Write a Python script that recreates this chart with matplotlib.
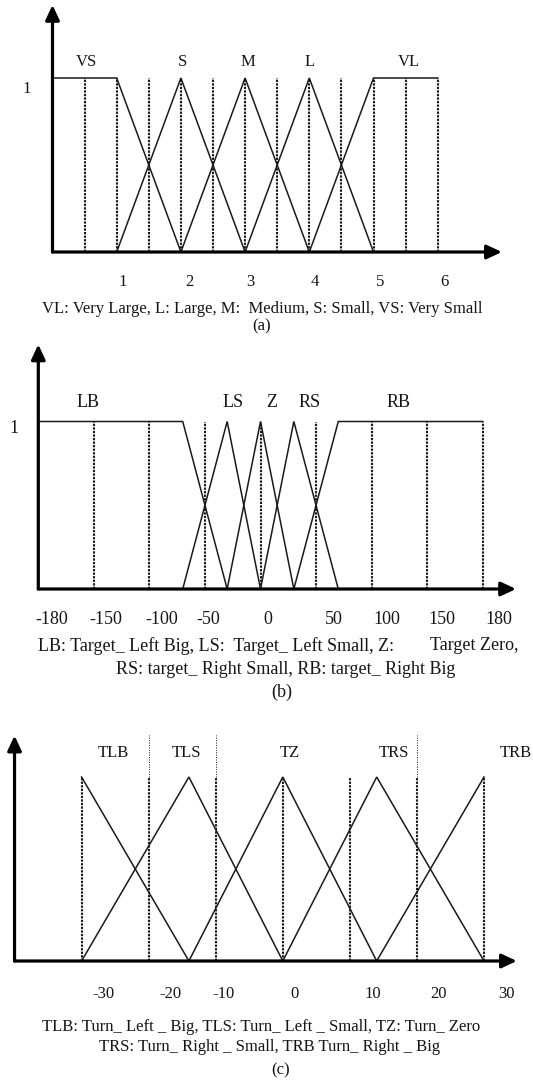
import matplotlib
matplotlib.use("Agg")
import matplotlib.pyplot as plt

W, H = 533, 1080

# (a) distance sets
a_labels = ['VS', 'S', 'M', 'L', 'VL']
a_x = [[0, 1, 2], [1, 2, 3], [2, 3, 4], [3, 4, 5], [4, 5, 6]]
a_mu = [[1, 1, 0], [0, 1, 0], [0, 1, 0], [0, 1, 0], [0, 1, 1]]
a_grid = [0.5, 1.0, 1.5, 2.0, 2.5, 3.0, 3.5, 4.0, 4.5, 5.0, 5.5, 6.0]
a_ticks = ['1', '2', '3', '4', '5', '6']
a_caption = "VL: Very Large, L: Large, M:  Medium, S: Small, VS: Very Small"

# (b) target angle sets
b_labels = ['LB', 'LS', 'Z', 'RS', 'RB']
b_x = [[-180, -63, -27], [-63, -27, 0], [-27, 0, 27], [0, 27, 63], [27, 63, 180]]
b_mu = [[1, 1, 0], [0, 1, 0], [0, 1, 0], [0, 1, 0], [0, 1, 1]]
b_grid = [-135, -90, -45, 0, 45, 90, 135, 180]
b_ticks = ['-180', '-150', '-100', '-50', '0', '50', '100', '150', '180']
b_caption1 = "LB: Target_ Left Big, LS:  Target_ Left Small, Z:"
b_caption1b = "Target Zero,"
b_caption2 = "RS: target_ Right Small, RB: target_ Right Big"

# (c) turn angle sets
c_labels = ['TLB', 'TLS', 'TZ', 'TRS', 'TRB']
c_x = [[-30, -14], [-30, -14, 0], [-14, 0, 14], [0, 14, 30], [14, 30]]
c_mu = [[1, 0], [0, 1, 0], [0, 1, 0], [0, 1, 0], [0, 1]]
c_grid = [-30, -20, -10, 0, 10, 20, 30]
c_grid_tall = [-20, -10, 20]
c_ticks = ['-30', '-20', '-10', '0', '10', '20', '30']
c_caption1 = "TLB: Turn_ Left _ Big, TLS: Turn_ Left _ Small, TZ: Turn_ Zero"
c_caption2 = "TRS: Turn_ Right _ Small, TRB Turn_ Right _ Big"

# label placement (data units of each panel)
a_label_x = [0.53, 2.02, 3.04, 4.01, 5.55]
a_tick_x = [1.1, 2.13, 3.08, 4.09, 5.1, 6.1]
b_label_x = [-140, -22, 9, 40, 112]
b_tick_x = [-169, -125, -80, -42, 6, 59, 102, 147, 193]
c_label_x = [-25.2, -14.4, 1.1, 16.6, 34.7]
c_tick_x = [-26.7, -16.8, -8.8, 1.7, 13.4, 23.2, 33.4]

plt.rcParams['font.family'] = ['Liberation Serif', 'DejaVu Serif']
FS = 12
FS_B = 13
TXT = '#151515'
LINE = '#1a1a1a'
DOTS = (0, (1.1, 0.6))


def add_panel(fig, top, bottom, xa, xb, ya, yb):
    ax = fig.add_axes([0, 1 - bottom / H, 1, (bottom - top) / H])
    xs = (xb[1] - xa[1]) / (xb[0] - xa[0])
    ys = (yb[1] - ya[1]) / (yb[0] - ya[0])
    ax.set_xlim(xa[1] + (0 - xa[0]) * xs, xa[1] + (W - xa[0]) * xs)
    ax.set_ylim(ya[1] + (bottom - ya[0]) * ys, ya[1] + (top - ya[0]) * ys)
    ax.axis('off')
    return ax


def draw_axes(ax, x0, x1, y1):
    style = dict(arrowstyle='-|>,head_length=0.45,head_width=0.21', lw=2.3,
                 color='black', mutation_scale=20, shrinkA=0, shrinkB=0)
    ax.annotate('', xy=(x1, 0), xytext=(x0, 0), arrowprops=style)
    ax.annotate('', xy=(x0, y1), xytext=(x0, 0), arrowprops=style)


def draw_sets(ax, xs, mus, grid):
    ax.vlines(grid, 0, 1, colors=LINE, linestyles=DOTS, lw=1.5)
    for x, mu in zip(xs, mus):
        ax.plot(x, mu, color=LINE, lw=1.1, solid_joinstyle='miter')


def ftext(fig, x, y, s, fs=FS, **kw):
    fig.text(x / W, 1 - y / H, s, fontsize=fs, color=TXT, va='center', **kw)


fig = plt.figure(figsize=(W / 100, H / 100), dpi=100)

# ---- (a)
ax = add_panel(fig, 0, 330, (52.5, 0), (437.7, 6), (252, 0), (78, 1))
draw_sets(ax, a_x, a_mu, a_grid)
draw_axes(ax, 0, 7.0, 1.42)
for name, lx in zip(a_labels, a_label_x):
    ax.text(lx, 1.09, name, ha='center', va='center', fontsize=FS, color=TXT)
for t, tx in zip(a_ticks, a_tick_x):
    ax.text(tx, -0.17, t, ha='center', va='center', fontsize=FS, color=TXT)
ax.text(-0.41, 0.935, '1', ha='center', va='center', fontsize=FS, color=TXT)
ftext(fig, 262.5, 309, a_caption, ha='center')
ftext(fig, 261.7, 326, '(a)', ha='center')

# ---- (b)
ax = add_panel(fig, 330, 700, (260.5, 0), (482.7, 180), (589, 0), (421.5, 1))
draw_sets(ax, b_x, b_mu, b_grid)
draw_axes(ax, -180, 207, 1.46)
for name, lx in zip(b_labels, b_label_x):
    ax.text(lx, 1.115, name, ha='center', va='center', fontsize=FS_B, color=TXT)
for t, tx in zip(b_ticks, b_tick_x):
    ax.text(tx, -0.185, t, ha='center', va='center', fontsize=FS_B, color=TXT)
ax.text(-199.8, 0.96, '1', ha='center', va='center', fontsize=FS_B, color=TXT)
ftext(fig, 38.4, 646, b_caption1, fs=FS_B, ha='left')
ftext(fig, 430, 645, b_caption1b, fs=FS_B, ha='left')
ftext(fig, 286, 670, b_caption2, fs=FS_B, ha='center')
ftext(fig, 281.7, 692, '(b)', fs=FS_B, ha='center')

# ---- (c)
ax = add_panel(fig, 700, 1080, (282.8, 0), (484, 30), (961, 0), (777, 1))
draw_sets(ax, c_x, c_mu, c_grid)
ax.vlines(c_grid_tall, 1, 1.23, colors=LINE, linestyles=(0, (1, 1.5)), lw=0.7)
draw_axes(ax, -40, 34.9, 1.225)
for name, lx in zip(c_labels, c_label_x):
    ax.text(lx, 1.13, name, ha='center', va='center', fontsize=FS, color=TXT)
for t, tx in zip(c_ticks, c_tick_x):
    ax.text(tx, -0.18, t, ha='center', va='center', fontsize=FS, color=TXT)
ftext(fig, 261.4, 1027, c_caption1, ha='center')
ftext(fig, 270, 1047, c_caption2, ha='center')
ftext(fig, 281, 1070, '(c)', ha='center')

fig.savefig('out.png', dpi=100)
